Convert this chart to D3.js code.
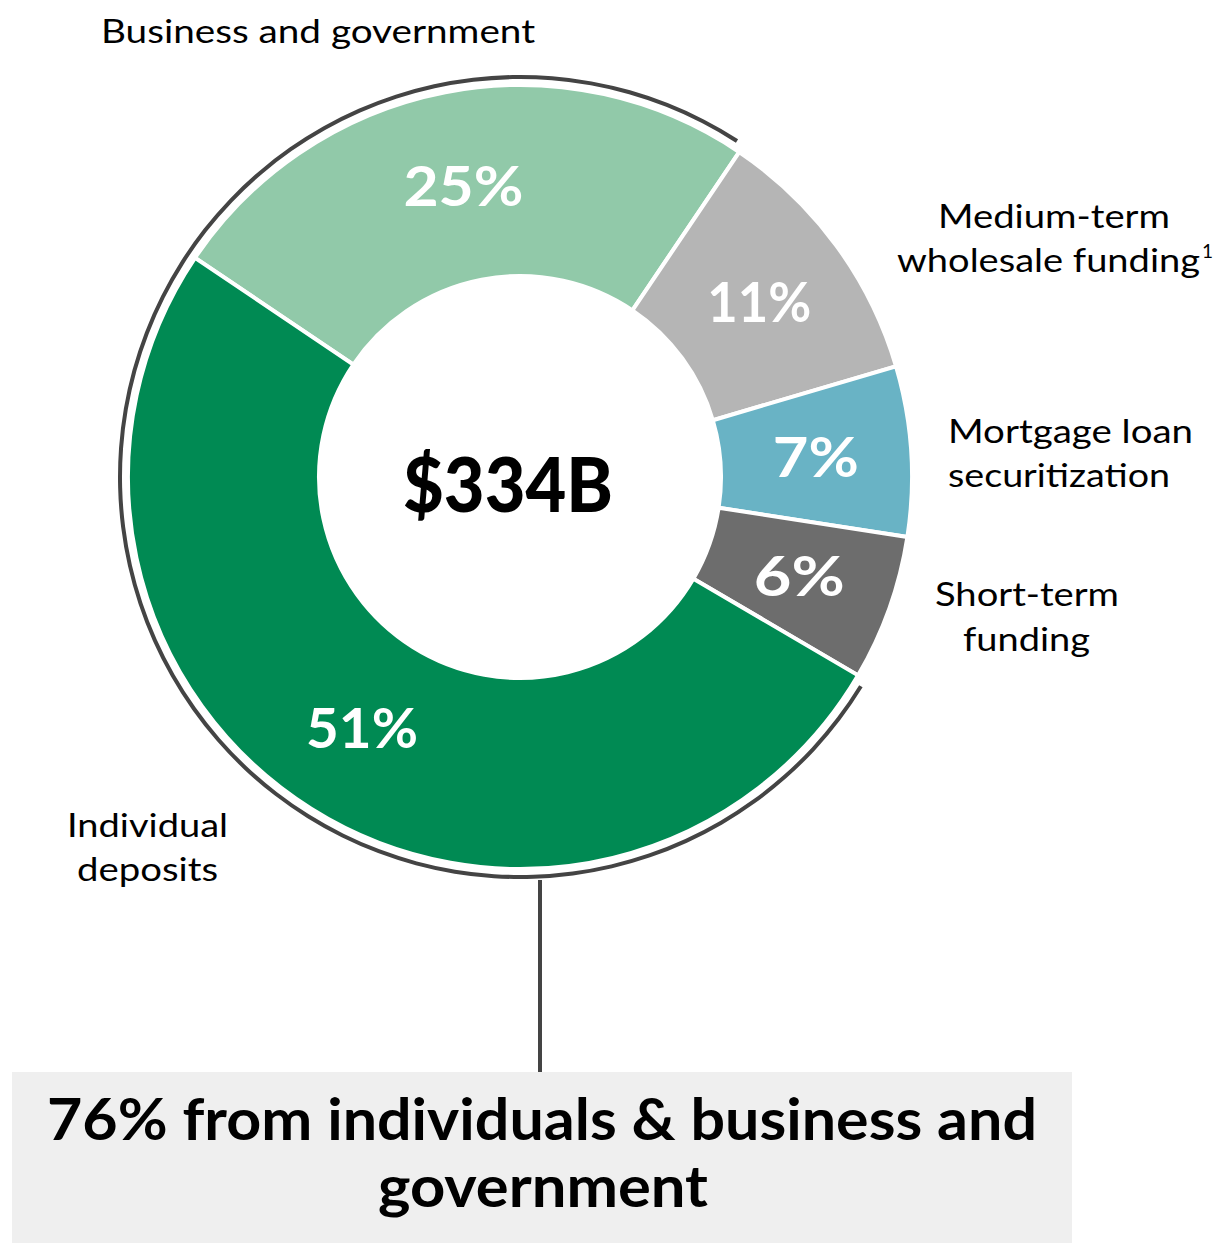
<!DOCTYPE html>
<html>
<head>
<meta charset="utf-8">
<script src="https://cdn.jsdelivr.net/npm/d3@7"></script>
<style>
  html, body { margin: 0; padding: 0; background: #fff; }
  svg { display: block; }
  text { font-family: Lato, "Open Sans", sans-serif; }
</style>
</head>
<body>
<svg id="chart" width="1217" height="1243"></svg>
<script>
// ---- data ----
const categories = ["Business and government", "Medium-term wholesale funding", "Mortgage loan securitization", "Short-term funding", "Individual deposits"];
const shares = [25, 11, 7, 6, 51];
const percentLabels = ["25%", "11%", "7%", "6%", "51%"];
const labelLines = [["Business and government"], ["Medium-term", "wholesale funding"], ["Mortgage loan", "securitization"], ["Short-term", "funding"], ["Individual", "deposits"]];
const footnoteMarks = ["", "1", "", "", ""];
const totalLabel = "$334B";
const calloutLines = ["76% from individuals & business and", "government"];
const highlighted = ["Individual deposits", "Business and government"];

// ---- styles / layout ----
const colors = ["#91C9A9", "#B5B5B5", "#69B3C5", "#6D6D6D", "#008A53"];
const cx = 520, cy = 477, rIn = 201, rOut = 392;
// per-label layout: left x of each line, first baseline, line step, line widths
const labelLayout = [
  { x: [101], y: 43, step: 44, w: [434] },
  { x: [938, 897], y: 228, step: 44, w: [232, 303] },
  { x: [948, 948], y: 443, step: 44, w: [245, 222] },
  { x: [935, 963], y: 606, step: 45, w: [184, 127] },
  { x: [67, 77], y: 837, step: 44, w: [161, 141] }
];
const pctWidths = [120, 104, 86, 91, 112];

const svg = d3.select("#chart");
const g = svg.append("g").attr("transform", `translate(${cx},${cy})`);

const start = -56 * Math.PI / 180;
const pie = d3.pie().sort(null).value(d => d).startAngle(start).endAngle(start + 2 * Math.PI);
const arcs = pie(shares);
const arc = d3.arc().innerRadius(rIn).outerRadius(rOut);

g.selectAll("path.slice").data(arcs).join("path")
  .attr("class", "slice")
  .attr("d", arc)
  .attr("fill", (d, i) => colors[i])
  .attr("stroke", "#fff")
  .attr("stroke-width", 4)
  .attr("stroke-linejoin", "miter");

g.selectAll("text.pct").data(arcs).join("text")
  .attr("class", "pct")
  .attr("x", (d, i) => arc.centroid(d)[0] - pctWidths[i] / 2)
  .attr("y", d => arc.centroid(d)[1] + 20)
  .attr("textLength", (d, i) => pctWidths[i])
  .attr("lengthAdjust", "spacingAndGlyphs")
  .attr("fill", "#fff")
  .attr("font-weight", 700)
  .attr("font-size", 55)
  .text((d, i) => percentLabels[i]);

// outer bracket arc over highlighted categories
const iBiz = categories.indexOf(highlighted[1]);
const iInd = categories.indexOf(highlighted[0]);
const bracket = d3.arc().innerRadius(398).outerRadius(402)
  .startAngle(arcs[iInd].startAngle + 0.02)
  .endAngle(arcs[iBiz].endAngle + 2 * Math.PI - 0.02);
g.append("path").attr("d", bracket()).attr("fill", "#444");

// center total
svg.append("text")
  .attr("x", 403).attr("y", 512)
  .attr("textLength", 210).attr("lengthAdjust", "spacingAndGlyphs")
  .attr("font-weight", 900)
  .attr("font-size", 76)
  .attr("fill", "#000")
  .text(totalLabel);

// category labels
labelLines.forEach((lines, i) => {
  const L = labelLayout[i];
  lines.forEach((line, k) => {
    svg.append("text")
      .attr("x", L.x[k]).attr("y", L.y + k * L.step)
      .attr("textLength", L.w[k]).attr("lengthAdjust", "spacingAndGlyphs")
      .attr("font-size", 33).attr("fill", "#000")
      .text(line);
    if (k === lines.length - 1 && footnoteMarks[i]) {
      svg.append("text")
        .attr("x", L.x[k] + L.w[k] + 2).attr("y", L.y + k * L.step - 14)
        .attr("font-size", 19).attr("fill", "#000")
        .text(footnoteMarks[i]);
    }
  });
});

// connector line & callout box
svg.append("line").attr("x1", 540).attr("x2", 540).attr("y1", 880).attr("y2", 1072)
  .attr("stroke", "#444").attr("stroke-width", 4);
svg.append("rect").attr("x", 12).attr("y", 1072).attr("width", 1060).attr("height", 171)
  .attr("fill", "#EFEFEF");
const calloutLayout = [{ x: 47, y: 1140, w: 990 }, { x: 378, y: 1207, w: 330 }];
svg.selectAll("text.callout").data(calloutLines).join("text")
  .attr("class", "callout")
  .attr("x", (d, i) => calloutLayout[i].x)
  .attr("y", (d, i) => calloutLayout[i].y)
  .attr("textLength", (d, i) => calloutLayout[i].w)
  .attr("lengthAdjust", "spacingAndGlyphs")
  .attr("font-weight", 700).attr("font-size", 58).attr("fill", "#000")
  .text(d => d);
</script>
</body>
</html>
